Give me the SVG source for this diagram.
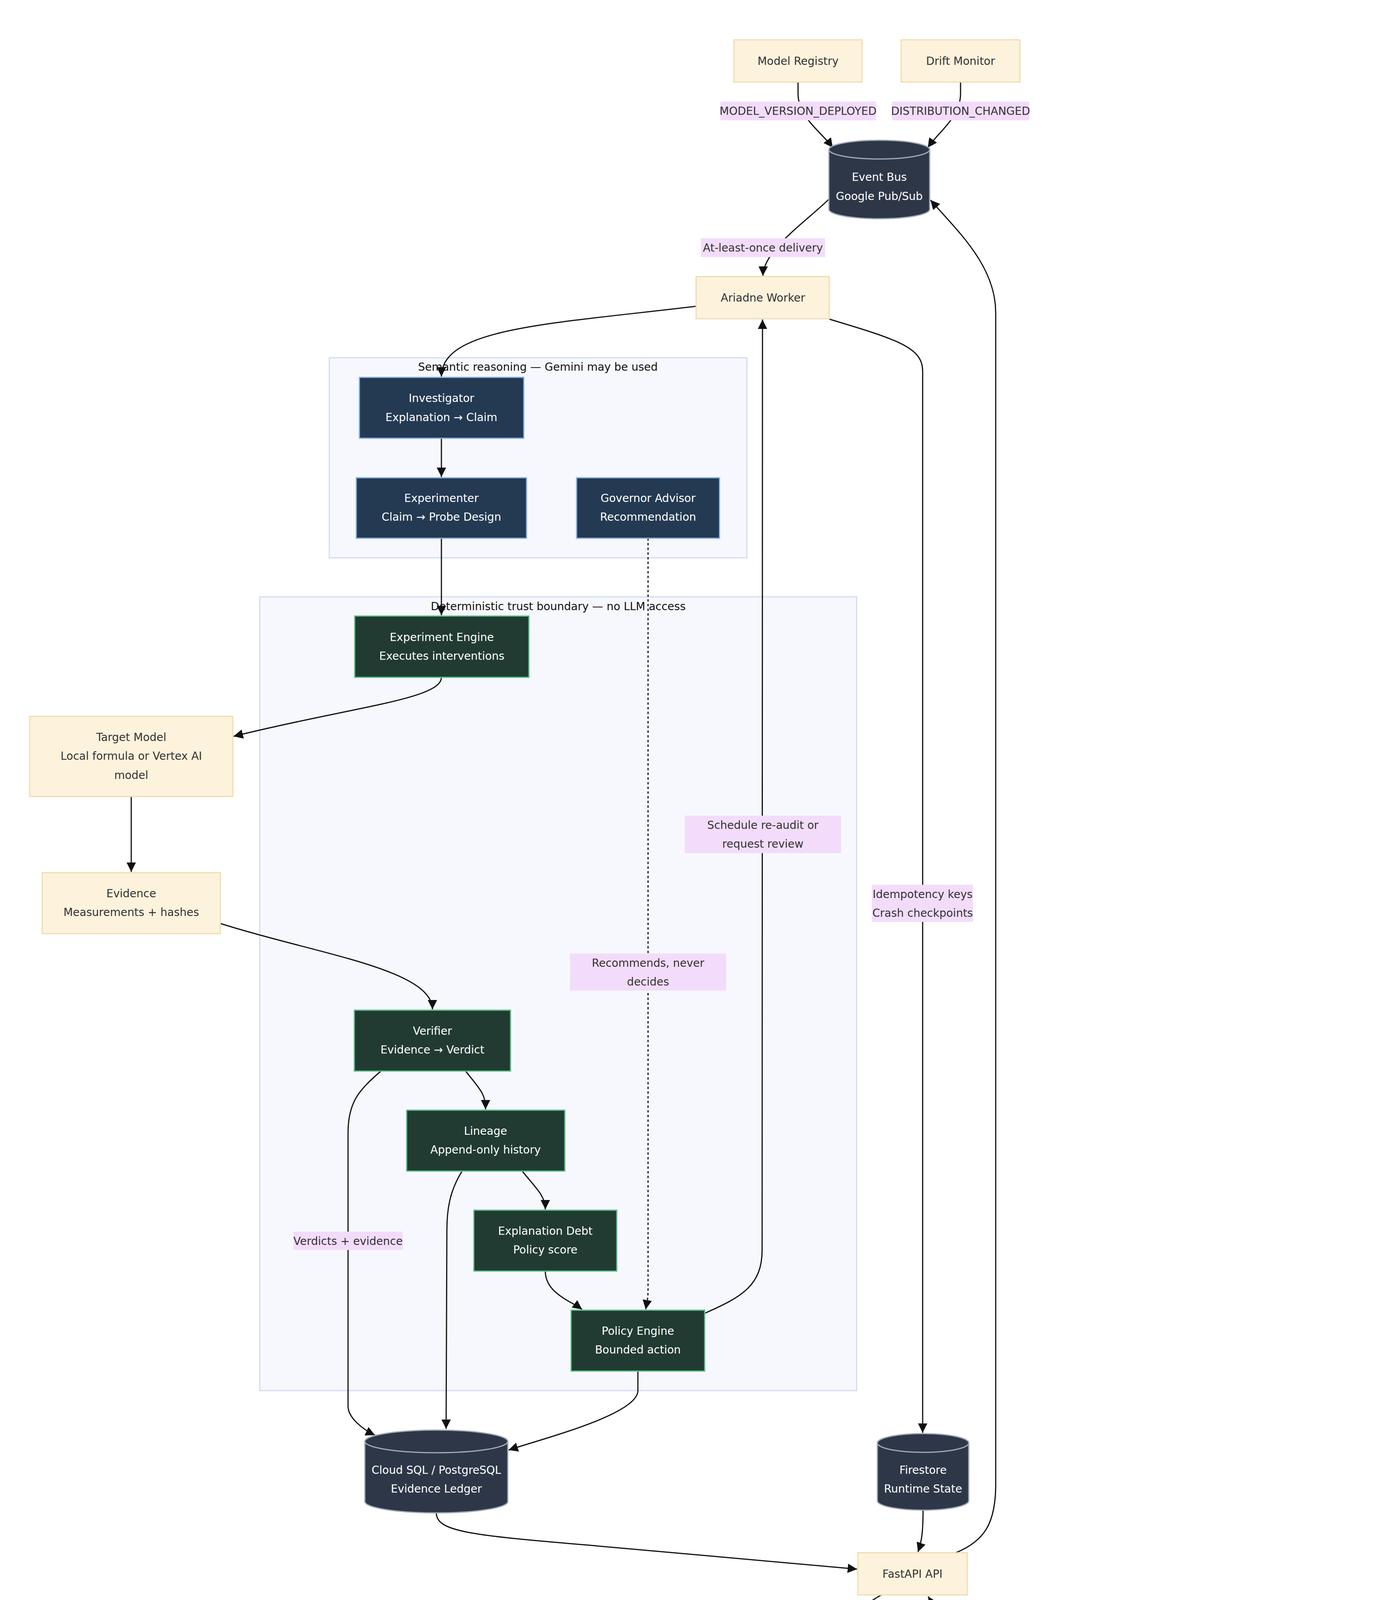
<svg xmlns="http://www.w3.org/2000/svg" width="3520" height="4496" viewBox="0 0 3520 4496">
<defs>
<marker id="ah" viewBox="0 0 10 10" refX="9" refY="5" markerWidth="10" markerHeight="10" markerUnits="userSpaceOnUse" orient="auto"><path d="M0,0 L10,5 L0,10 z" fill="#111"/></marker>
<marker id="a" viewBox="0 0 10 10" refX="10" refY="5" markerWidth="24" markerHeight="24" markerUnits="userSpaceOnUse" orient="auto"><path d="M0,0 L10,5 L0,10 z" fill="#111"/></marker>
</defs>
<style>
text{font-family:"DejaVu Sans","Liberation Sans",sans-serif;font-size:28px;text-anchor:middle;dominant-baseline:central}
.cl{fill:#f7f8fd;stroke:#d0dcf3;stroke-width:3}
.ct{fill:#111}
.b{fill:#fdf2dc;stroke:#f0dcb0;stroke-width:3}
.bt{fill:#333}
.d{fill:#243a52;stroke:#8ab4e8;stroke-width:3}
.g{fill:#213b32;stroke:#5cc48a;stroke-width:3}
.w{fill:#fff}
.cy{fill:#2e3748;stroke:#a0aabb;stroke-width:3}
.e{fill:none;stroke:#111;stroke-width:3;marker-end:url(#a)}
.dot{stroke-dasharray:6 6}
.lb{fill:#f3dcfb}
</style>
<rect width="3520" height="4496" fill="#fff"/>
<g id="clusters">
<rect class="cl" x="843" y="916" width="1069" height="512"/>
<text class="ct" x="1377" y="939">Semantic reasoning — Gemini may be used</text>
<rect class="cl" x="665" y="1528" width="1528" height="2032"/>
<text class="ct" x="1429" y="1552">Deterministic trust boundary — no LLM access</text>
</g>
<g id="edges">
<path class="e" d="M2043,210 L2043,240 C2043,300 2100,335 2132,378"/>
<path class="e" d="M2459,210 L2459,240 C2459,300 2405,335 2375,378"/>
<path class="e" d="M2122,510 C2060,570 1955,640 1953,706"/>
<path class="e" d="M1782,784 C1400,830 1130,840 1130,964"/>
<path class="e" d="M1130,1122 L1130,1221"/>
<path class="e" d="M1130,1378 L1130,1575"/>
<path class="e" d="M1130,1734 C1130,1790 900,1810 598,1885"/>
<path class="e" d="M336,2039 L336,2232"/>
<path class="e" d="M564,2364 C800,2440 1107,2480 1107,2584"/>
<path class="e" d="M1192,2742 C1230,2790 1243,2800 1243,2840"/>
<path class="e" d="M975,2742 C920,2790 891,2820 891,2900 L891,3600 C891,3630 930,3660 960,3674"/>
<path class="e" d="M1183,2998 C1150,3050 1144,3100 1144,3150 L1142,3658"/>
<path class="e" d="M1337,2998 C1370,3040 1396,3060 1396,3096"/>
<path class="e" d="M1396,3254 C1396,3310 1460,3330 1490,3352"/>
<path class="e dot" d="M1659,1378 L1659,3300 C1659,3330 1655,3340 1653,3352"/>
<path class="e" d="M1804,3362 C1900,3320 1951,3290 1951,3200 L1952,818"/>
<path class="e" d="M1633,3510 L1633,3560 C1633,3620 1400,3680 1302,3712"/>
<path class="e" d="M2123,817 C2300,870 2362,890 2362,950 L2362,3668"/>
<path class="e" d="M1117,3873 C1117,3920 1200,3930 1500,3955 L2194,4017"/>
<path class="e" d="M2363,3866 C2363,3920 2360,3945 2350,3973"/>
<path class="e" d="M2447,3975 C2520,3945 2549,3900 2549,3800 L2549,800 C2549,680 2450,590 2382,512"/>
<path class="e" d="M2256,4083 C2200,4115 2180,4140 2185,4175 C2195,4200 2220,4215 2238,4229"/>
<path class="e" d="M2384,4231 C2410,4195 2420,4170 2410,4150 C2400,4120 2390,4110 2376,4087"/>
</g>
<g id="edge-labels">
<rect class="lb" x="1844" y="260" width="399" height="48"/><text class="bt" x="2043" y="284">MODEL_VERSION_DEPLOYED</text>
<rect class="lb" x="2283" y="260" width="352" height="48"/><text class="bt" x="2459" y="284">DISTRIBUTION_CHANGED</text>
<rect class="lb" x="1794" y="610" width="318" height="48"/><text class="bt" x="1953" y="634">At-least-once delivery</text>
<rect class="lb" x="1753" y="2088" width="400" height="96"/><text class="bt" x="1953" y="2112">Schedule re-audit or</text><text class="bt" x="1953" y="2160">request review</text>
<rect class="lb" x="2232" y="2265" width="259" height="95"/><text class="bt" x="2362" y="2289">Idempotency keys</text><text class="bt" x="2362" y="2337">Crash checkpoints</text>
<rect class="lb" x="1459" y="2441" width="400" height="95"/><text class="bt" x="1659" y="2465">Recommends, never</text><text class="bt" x="1659" y="2513">decides</text>
<rect class="lb" x="751" y="3153" width="280" height="47"/><text class="bt" x="891" y="3177">Verdicts + evidence</text>
<rect class="lb" x="2031" y="4130" width="246" height="47"/><text class="bt" x="2154" y="4154">Read-only results</text>
<rect class="lb" x="2311" y="4134" width="236" height="47"/><text class="bt" x="2429" y="4158">Publishes events</text>
</g>
<g id="model-registry"><rect class="b" x="1879" y="102" width="328" height="108"/><text class="bt" x="2043" y="156">Model Registry</text></g>
<g id="drift-monitor"><rect class="b" x="2307" y="102" width="304" height="108"/><text class="bt" x="2459" y="156">Drift Monitor</text></g>
<g id="event-bus"><path class="cy" d="M2122,383 A129,24 0 0 1 2380,383 L2380,536 A129,24 0 0 1 2122,536 Z"/><path class="cy" d="M2122,383 A129,24 0 0 0 2380,383" fill="none"/><text class="w" x="2251" y="453">Event Bus</text><text class="w" x="2251" y="502">Google Pub/Sub</text></g>
<g id="ariadne-worker"><rect class="b" x="1782" y="708" width="341" height="108"/><text class="bt" x="1953" y="762">Ariadne Worker</text></g>
<g id="investigator"><rect class="d" x="920" y="966" width="421" height="156"/><text class="w" x="1130" y="1019">Investigator</text><text class="w" x="1130" y="1068">Explanation → Claim</text></g>
<g id="experimenter"><rect class="d" x="912" y="1223" width="436" height="155"/><text class="w" x="1130" y="1275">Experimenter</text><text class="w" x="1130" y="1323">Claim → Probe Design</text></g>
<g id="governor-advisor"><rect class="d" x="1476" y="1223" width="366" height="155"/><text class="w" x="1659" y="1275">Governor Advisor</text><text class="w" x="1659" y="1323">Recommendation</text></g>
<g id="experiment-engine"><rect class="g" x="908" y="1577" width="446" height="157"/><text class="w" x="1131" y="1631">Experiment Engine</text><text class="w" x="1131" y="1679">Executes interventions</text></g>
<g id="target-model"><rect class="b" x="76" y="1834" width="520" height="205"/><text class="bt" x="336" y="1887">Target Model</text><text class="bt" x="336" y="1935">Local formula or Vertex AI</text><text class="bt" x="336" y="1984">model</text></g>
<g id="evidence"><rect class="b" x="108" y="2234" width="456" height="156"/><text class="bt" x="336" y="2287">Evidence</text><text class="bt" x="336" y="2335">Measurements + hashes</text></g>
<g id="verifier"><rect class="g" x="907" y="2586" width="400" height="156"/><text class="w" x="1107" y="2639">Verifier</text><text class="w" x="1107" y="2687">Evidence → Verdict</text></g>
<g id="lineage"><rect class="g" x="1041" y="2842" width="405" height="156"/><text class="w" x="1243" y="2895">Lineage</text><text class="w" x="1243" y="2943">Append-only history</text></g>
<g id="explanation-debt"><rect class="g" x="1213" y="3098" width="366" height="156"/><text class="w" x="1396" y="3151">Explanation Debt</text><text class="w" x="1396" y="3199">Policy score</text></g>
<g id="policy-engine"><rect class="g" x="1462" y="3354" width="342" height="156"/><text class="w" x="1633" y="3407">Policy Engine</text><text class="w" x="1633" y="3455">Bounded action</text></g>
<g id="cloud-sql"><path class="cy" d="M934,3690 A183,29 0 0 1 1300,3690 L1300,3844 A183,29 0 0 1 934,3844 Z"/><path class="cy" d="M934,3690 A183,29 0 0 0 1300,3690" fill="none"/><text class="w" x="1117" y="3763">Cloud SQL / PostgreSQL</text><text class="w" x="1117" y="3811">Evidence Ledger</text></g>
<g id="firestore"><path class="cy" d="M2246,3694 A117,24 0 0 1 2480,3694 L2480,3842 A117,24 0 0 1 2246,3842 Z"/><path class="cy" d="M2246,3694 A117,24 0 0 0 2480,3694" fill="none"/><text class="w" x="2363" y="3763">Firestore</text><text class="w" x="2363" y="3811">Runtime State</text></g>
<g id="fastapi"><rect class="b" x="2196" y="3975" width="280" height="108"/><text class="bt" x="2336" y="4029">FastAPI API</text></g>
<g id="react-console"><rect class="b" x="2123" y="4231" width="425" height="156"/><text class="bt" x="2336" y="4285">React + TypeScript</text><text class="bt" x="2336" y="4333">Investigation Console</text></g>
</svg>
